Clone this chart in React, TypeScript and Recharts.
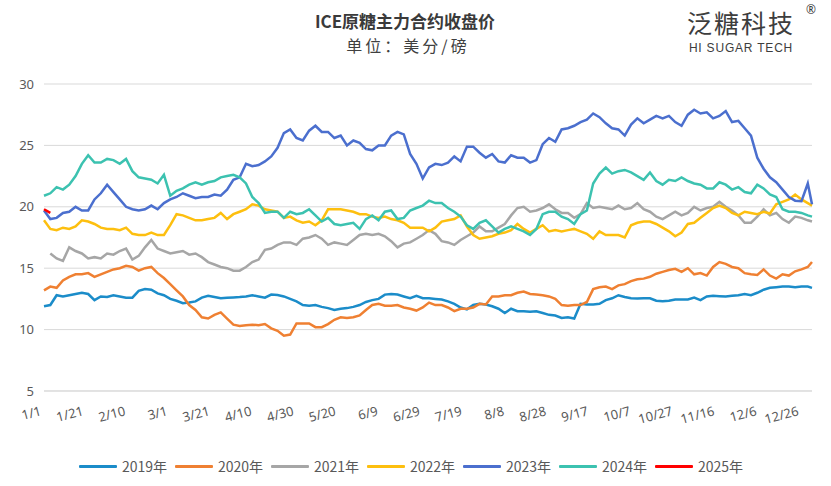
import { LineChart, Line, XAxis, YAxis, CartesianGrid } from "recharts";

// ICE raw sugar front-month close, cents/lb, one row every 3 days of a (leap) year
const years = ["2019年", "2020年", "2021年", "2022年", "2023年", "2024年", "2025年"];
const colors = ["#1b8cc9", "#ef8032", "#a6a6a6", "#fdbf0f", "#4b6fce", "#3cc2b0", "#ff0000"];

const tickLabels = [
  "1/1", "1/21", "2/10", "3/1", "3/21", "4/10", "4/30", "5/20", "6/9", "6/29",
  "7/19", "8/8", "8/28", "9/17", "10/7", "10/27", "11/16", "12/6", "12/26",
];
const yTicks = [5, 10, 15, 20, 25, 30];

const v2019 = [
  11.9, 12.0, 12.8, 12.7, 12.8, 12.9, 13.0, 12.9, 12.4, 12.7, 12.65, 12.8, 12.7, 12.6, 12.6, 13.15, 13.3, 13.25, 12.95, 12.8, 12.5,
  12.35, 12.15, 12.2, 12.3, 12.6, 12.75, 12.65, 12.55, 12.6, 12.62, 12.65, 12.7, 12.8, 12.7, 12.6, 12.85, 12.82, 12.7, 12.5, 12.3, 12.0,
  11.95, 12.0, 11.85, 11.75, 11.6, 11.7, 11.75, 11.85, 12.0, 12.25, 12.4, 12.5, 12.85, 12.9, 12.85, 12.7, 12.55, 12.75, 12.55, 12.55, 12.5,
  12.45, 12.3, 12.1, 11.8, 11.65, 12.0, 12.1, 12.05, 11.9, 11.7, 11.35, 11.7, 11.5, 11.5, 11.45, 11.5, 11.35, 11.2, 11.15, 10.95,
  11.0, 10.9, 12.1, 12.05, 12.05, 12.1, 12.4, 12.55, 12.8, 12.65, 12.55, 12.53, 12.55, 12.55, 12.35, 12.3, 12.35, 12.45, 12.45, 12.45, 12.6,
  12.4, 12.7, 12.75, 12.72, 12.7, 12.75, 12.8, 12.9, 12.8, 13.0, 13.25, 13.4, 13.45, 13.5, 13.5, 13.45, 13.5, 13.5,
  13.4,
];

const v2020 = [
  13.2, 13.5, 13.4, 14.0, 14.3, 14.5, 14.5, 14.6, 14.3, 14.5, 14.7, 14.9, 15.0, 15.2, 15.1, 14.8, 15.0, 15.1, 14.6, 14.2, 13.7,
  13.2, 12.7, 12.0, 11.6, 11.0, 10.9, 11.2, 11.4, 10.9, 10.4, 10.3, 10.35, 10.4, 10.35, 10.45, 10.1, 9.9, 9.5, 9.6, 10.5, 10.5,
  10.5, 10.2, 10.2, 10.45, 10.8, 11.0, 10.95, 11.0, 11.15, 11.6, 12.0, 12.1, 11.95, 11.95, 12.0, 11.8, 11.7, 11.55, 11.8, 12.2, 12.0,
  12.0, 11.8, 11.5, 11.7, 11.7, 11.8, 12.1, 12.05, 12.7, 12.7, 12.8, 12.8, 13.0, 13.1, 12.9, 12.85, 12.8, 12.7, 12.5, 12.0,
  11.95, 12.0, 12.0, 12.25, 13.3, 13.45, 13.5, 13.3, 13.6, 13.7, 13.95, 14.1, 14.15, 14.3, 14.55, 14.7, 14.85, 14.95, 14.7, 15.0, 14.5,
  14.6, 14.4, 15.1, 15.5, 15.35, 15.1, 15.0, 14.6, 14.5, 14.45, 14.9, 14.4, 14.15, 14.5, 14.4, 14.75, 14.9, 15.1,
  15.5,
];

const v2021 = [
  null, 16.2, 15.8, 15.6, 16.7, 16.4, 16.2, 15.8, 15.9, 15.8, 16.2, 16.1, 16.4, 16.6, 15.7, 16.0, 16.7, 17.3, 16.6, 16.4, 16.2,
  16.3, 16.4, 16.1, 16.2, 15.9, 15.5, 15.3, 15.1, 15.0, 14.8, 14.8, 15.1, 15.5, 15.7, 16.5, 16.6, 16.9, 17.1, 17.1, 16.9, 17.4,
  17.5, 17.7, 17.4, 16.9, 17.1, 17.0, 16.9, 17.3, 17.7, 17.8, 17.7, 17.8, 17.6, 17.2, 16.7, 17.0, 17.1, 17.4, 17.7, 18.1, 17.8,
  17.2, 17.1, 16.9, 17.3, 17.6, 17.9, 18.4, 18.0, 18.0, 18.3, 18.6, 19.3, 19.9, 20.0, 19.6, 19.7, 19.9, 20.2, 19.8, 19.5,
  19.5, 19.1, 19.4, 20.3, 19.9, 20.0, 19.9, 19.8, 20.1, 19.8, 19.9, 20.3, 19.8, 19.6, 19.2, 19.0, 19.3, 19.6, 19.3, 19.5, 20.0,
  19.7, 19.9, 20.0, 20.4, 20.0, 19.7, 19.3, 18.7, 18.7, 19.2, 19.8, 19.3, 19.5, 19.0, 18.7, 19.2, 19.1, 18.9,
  18.8,
];

const v2022 = [
  18.9, 18.2, 18.1, 18.3, 18.2, 18.4, 18.9, 18.8, 18.6, 18.3, 18.2, 18.2, 18.1, 18.3, 17.8, 17.7, 17.7, 17.9, 17.7, 17.7, 18.5,
  19.4, 19.3, 19.1, 18.9, 18.9, 19.0, 19.1, 19.5, 19.0, 19.4, 19.6, 19.8, 20.2, 20.1, 19.8, 19.7, 19.6, 19.1, 19.2, 18.9, 18.7,
  18.8, 18.5, 18.9, 19.8, 19.8, 19.8, 19.7, 19.6, 19.4, 19.4, 19.2, 19.1, 19.2, 19.0, 18.9, 18.7, 18.3, 18.3, 18.3, 18.0, 18.3,
  18.8, 18.9, 19.0, 19.3, 18.4, 17.7, 17.4, 17.5, 17.6, 17.8, 17.9, 18.1, 18.6, 18.2, 17.9, 18.2, 18.5, 18.0, 18.1, 18.0,
  18.1, 18.2, 18.0, 17.8, 17.4, 18.0, 17.7, 17.7, 17.7, 17.5, 18.5, 18.7, 18.8, 18.8, 18.6, 18.3, 18.0, 17.6, 17.9, 18.6, 18.7,
  19.1, 19.5, 19.9, 20.1, 19.9, 19.5, 19.3, 19.6, 19.5, 19.4, 19.6, 19.45, 20.2, 20.4, 20.6, 21.0, 20.6, 20.3,
  20.1,
];

const v2023 = [
  19.7, 19.0, 19.1, 19.5, 19.6, 20.0, 19.7, 19.7, 20.6, 21.1, 21.8, 21.2, 20.6, 20.0, 19.8, 19.7, 19.8, 20.1, 19.8, 20.3, 20.6,
  20.8, 21.1, 20.9, 20.7, 20.8, 20.8, 21.0, 20.9, 21.4, 22.2, 22.4, 23.5, 23.3, 23.4, 23.7, 24.1, 24.8, 26.0, 26.3, 25.6, 25.4,
  26.2, 26.6, 26.1, 26.1, 25.6, 25.8, 25.0, 25.4, 25.2, 24.7, 24.6, 25.0, 25.0, 25.8, 26.1, 25.9, 24.3, 23.5, 22.3, 23.2, 23.5,
  23.4, 23.6, 24.1, 23.7, 24.9, 24.9, 24.4, 24.0, 24.3, 23.7, 23.6, 24.2, 24.0, 24.0, 23.6, 23.8, 25.1, 25.6, 25.3, 26.3,
  26.4, 26.6, 26.9, 27.1, 27.6, 27.3, 26.8, 26.4, 26.3, 25.8, 26.7, 27.2, 26.8, 27.1, 27.4, 27.2, 27.4, 26.9, 26.6, 27.5, 27.9,
  27.6, 27.7, 27.2, 27.4, 27.8, 26.9, 27.0, 26.4, 25.8, 24.0, 23.1, 22.4, 22.0, 21.4, 20.8, 20.5, 20.45, 21.9,
  20.2,
];

const v2024 = [
  20.9, 21.1, 21.6, 21.4, 21.8, 22.5, 23.5, 24.2, 23.6, 23.6, 23.9, 23.8, 23.5, 23.9, 22.9, 22.4, 22.3, 22.2, 21.9, 22.6, 20.9,
  21.3, 21.5, 21.8, 22.0, 21.8, 22.0, 22.1, 22.4, 22.5, 22.6, 22.4, 21.9, 20.8, 20.3, 19.5, 19.6, 19.6, 19.1, 19.6, 19.4, 19.5,
  19.8, 19.3, 18.8, 19.1, 18.6, 18.5, 18.6, 18.7, 18.2, 19.0, 19.3, 18.9, 19.6, 19.7, 19.0, 19.1, 19.7, 19.9, 20.1, 20.5, 20.3,
  20.3, 19.9, 19.6, 19.2, 18.5, 18.2, 18.7, 18.9, 18.4, 17.9, 18.2, 18.4, 18.2, 18.0, 17.7, 18.2, 19.4, 19.6, 19.6, 19.2,
  19.0, 18.6, 19.4, 19.7, 21.9, 22.7, 23.2, 22.7, 22.9, 23.0, 22.8, 22.5, 22.2, 22.8, 22.1, 21.8, 22.2, 22.1, 22.4, 22.1, 21.9,
  21.8, 21.5, 21.5, 22.0, 21.8, 21.4, 21.6, 21.2, 21.1, 21.8, 21.5, 21.0, 20.8, 19.8, 19.6, 19.6, 19.5, 19.3,
  19.2,
];

const v2025 = [19.8, 19.5];

const series = [v2019, v2020, v2021, v2022, v2023, v2024, v2025];

// sample positions (day of year): every third day, plus the last day
const sampleDays: number[] = [];
for (let d = 0; d <= 363; d += 3) sampleDays.push(d);
sampleDays.push(365);

const tickDays = tickLabels.map((_, i) => i * 20);

const data = sampleDays.map((day, i) => {
  const row: Record<string, number | null> = { day };
  series.forEach((arr, k) => {
    const v = arr[i];
    row["s" + k] = v === undefined ? null : v;
  });
  return row;
});

const FONT = "'Noto Sans', 'Noto Sans CJK SC', sans-serif";
const CJK = "'Noto Sans CJK SC', sans-serif";

function DateTick(props: any) {
  const { x, y, payload } = props;
  const label = tickLabels[Math.round(payload.value / 20)];
  const tx = x - 2;
  const ty = y + 16;
  return (
    <text
      x={tx}
      y={ty}
      textAnchor="end"
      transform={`rotate(-15, ${tx}, ${ty})`}
      fill="#595959"
      fontSize={13}
      fontFamily={FONT}
    >
      {label}
    </text>
  );
}

export default function App() {
  return (
    <div
      style={{
        position: "fixed",
        left: 0,
        top: 0,
        width: 831,
        height: 486,
        background: "#fff",
        fontFamily: FONT,
      }}
    >
      <div
        style={{
          position: "absolute",
          top: 8,
          left: 0,
          width: 810,
          textAlign: "center",
          fontSize: 17,
          fontWeight: 700,
          color: "#3a3a3a",
          fontFamily: CJK,
        }}
      >
        ICE原糖主力合约收盘价
      </div>
      <div
        style={{
          position: "absolute",
          top: 33,
          left: 0,
          width: 816,
          textAlign: "center",
          fontSize: 16,
          letterSpacing: 3,
          color: "#404040",
          fontFamily: CJK,
        }}
      >
        单位：美分/磅
      </div>

      {/* logo block */}
      <div style={{ position: "absolute", left: 682, top: 7, width: 118, textAlign: "center", color: "#3d3d3d" }}>
        <div style={{ fontSize: 25, lineHeight: "30px", letterSpacing: 2, fontFamily: CJK }}>泛糖科技</div>
        <div
          style={{
            marginTop: 4,
            fontSize: 12,
            lineHeight: "14px",
            letterSpacing: 0.8,
            fontWeight: 500,
            fontFamily: "'Liberation Sans', Arial, sans-serif",
          }}
        >
          HI SUGAR TECH
        </div>
      </div>
      <div style={{ position: "absolute", left: 806, top: 1, fontSize: 12, color: "#3d3d3d" }}>®</div>

      <LineChart width={831} height={486} data={data} margin={{ top: 84, right: 19, bottom: 65, left: 0 }}>
        <CartesianGrid vertical={false} stroke="#d9d9d9" />
        <XAxis
          dataKey="day"
          type="number"
          domain={[0, 365]}
          ticks={tickDays}
          interval={0}
          tick={<DateTick />}
          tickLine={false}
          axisLine={{ stroke: "#d9d9d9" }}
          height={30}
        />
        <YAxis
          domain={[5, 30]}
          ticks={yTicks}
          width={44}
          axisLine={false}
          tickLine={false}
          tickMargin={4}
          tick={{ fill: "#595959", fontSize: 13, fontFamily: FONT }}
        />
        {years.map((name, k) => (
          <Line
            key={name}
            dataKey={"s" + k}
            name={name}
            type="linear"
            stroke={colors[k]}
            strokeWidth={2.5}
            dot={false}
            isAnimationActive={false}
          />
        ))}
      </LineChart>

      {/* legend */}
      <div style={{ position: "absolute", left: 79, top: 456, height: 20, display: "flex" }}>
        {years.map((name, k) => (
          <div key={name} style={{ width: 96, display: "flex", alignItems: "center", height: 20 }}>
            <div style={{ width: 38, height: 3, background: colors[k], borderRadius: 1 }} />
            <span style={{ marginLeft: 5, fontSize: 14, color: "#595959", fontFamily: CJK }}>{name}</span>
          </div>
        ))}
      </div>
    </div>
  );
}
